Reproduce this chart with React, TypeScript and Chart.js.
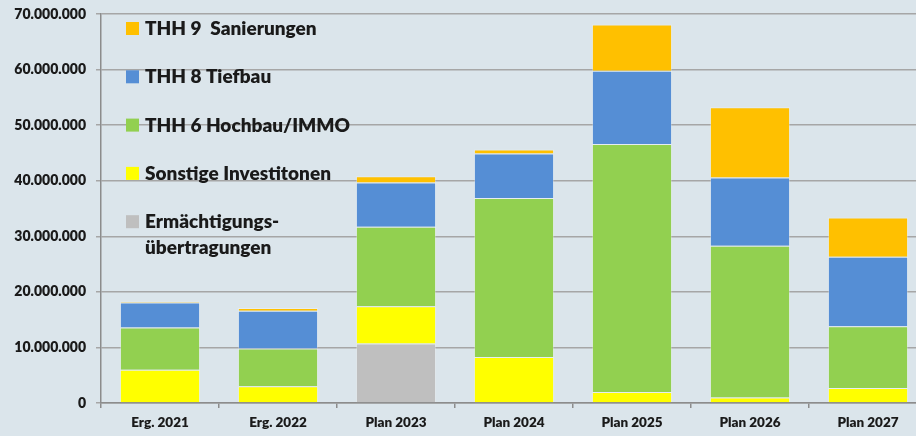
import React, { useEffect, useRef } from "react";
import { Chart, registerables } from "chart.js";

Chart.register(...registerables);

const categories = ["Erg. 2021", "Erg. 2022", "Plan 2023", "Plan 2024", "Plan 2025", "Plan 2026", "Plan 2027"];
const ermaechtigung = [0, 0, 10700000, 0, 0, 0, 0];
const sonstige = [6000000, 3000000, 6700000, 8300000, 2000000, 1000000, 2700000];
const thh6 = [7600000, 6800000, 14300000, 28600000, 44600000, 27300000, 11100000];
const thh8 = [4500000, 6800000, 8000000, 8000000, 13200000, 12300000, 12500000];
const thh9 = [150000, 500000, 1100000, 700000, 8300000, 12600000, 7100000];

const yMax = 70000000;
const yStep = 10000000;

const FONT = "Lato";
const WEIGHT = "800";
const TEXT = "#1a1a1a";

const legendPlugin = {
  id: "customLegend",
  afterDraw(chart: any) {
    const ctx = chart.ctx;
    const ds = chart.data.datasets;
    const x0 = 126;
    const y0 = 28;
    const gap = 48.3;
    ctx.save();
    ctx.font = `${WEIGHT} 19px ${FONT}`;
    ctx.textBaseline = "middle";
    ctx.textAlign = "left";
    for (let i = ds.length - 1, k = 0; i >= 0; i--, k++) {
      const y = y0 + k * gap;
      ctx.fillStyle = ds[i].backgroundColor;
      ctx.fillRect(x0, y - 6, 13, 13);
      ctx.fillStyle = TEXT;
      const lines = String(ds[i].legendText || ds[i].label).split("\n");
      lines.forEach((ln: string, j: number) => {
        ctx.fillText(ln, x0 + 19, y + 1 + j * 26);
      });
    }
    ctx.restore();
  },
};

export default function App() {
  const ref = useRef<HTMLCanvasElement | null>(null);
  useEffect(() => {
    if (!ref.current) return;
    const mk = (label: string, data: number[], color: string, legendText?: string) => ({
      label,
      legendText,
      data,
      backgroundColor: color,
      borderColor: "rgba(255,255,255,0.3)",
      borderWidth: 1,
      categoryPercentage: 1,
      barPercentage: 0.68,
    });
    const chart = new Chart(ref.current, {
      type: "bar",
      data: {
        labels: categories,
        datasets: [
          mk("Ermächtigungsübertragungen", ermaechtigung, "#bfbfbf", "Ermächtigungs-\nübertragungen"),
          mk("Sonstige Investitonen", sonstige, "#ffff00"),
          mk("THH 6 Hochbau/IMMO", thh6, "#92d050"),
          mk("THH 8 Tiefbau", thh8, "#558ed5"),
          mk("THH 9  Sanierungen", thh9, "#ffc000"),
        ] as any,
      },
      options: {
        animation: false,
        responsive: false,
        maintainAspectRatio: false,
        layout: { padding: { top: 14, left: 0, right: 0, bottom: 0 } },
        plugins: { legend: { display: false }, tooltip: { enabled: false } },
        scales: {
          x: {
            stacked: true,
            offset: true,
            grid: { display: true, drawOnChartArea: false, drawTicks: true, tickLength: 5, offset: true, color: "#8c8c8c", lineWidth: 1.5 },
            border: { display: true, color: "#8c8c8c", width: 1.5 },
            ticks: { color: TEXT, font: { family: FONT, weight: WEIGHT, size: 13.5 }, padding: 7, maxRotation: 0 },
            afterFit: (s: any) => { s.height = 33; s.paddingLeft = 0; s.paddingRight = 0; },
          },
          y: {
            stacked: true,
            min: 0,
            max: yMax,
            grid: { color: "#a6a6a6", lineWidth: 1.5, tickLength: 5, drawTicks: true },
            border: { display: true, color: "#8c8c8c", width: 1.5 },
            ticks: {
              stepSize: yStep,
              color: TEXT,
              padding: 10,
              font: { family: FONT, weight: WEIGHT, size: 14 },
              callback: (v: any) => Number(v).toLocaleString("de-DE"),
            },
            afterFit: (s: any) => { s.width = 101; s.paddingTop = 0; s.paddingBottom = 0; },
          },
        },
      } as any,
      plugins: [legendPlugin],
    });
    return () => chart.destroy();
  }, []);
  return (
    <div style={{ position: "fixed", left: 0, top: 0, width: 916, height: 436, overflow: "hidden", background: "#dbe5eb" }}>
      <canvas ref={ref} width={927} height={436} style={{ width: 927, height: 436, display: "block" }} />
    </div>
  );
}
